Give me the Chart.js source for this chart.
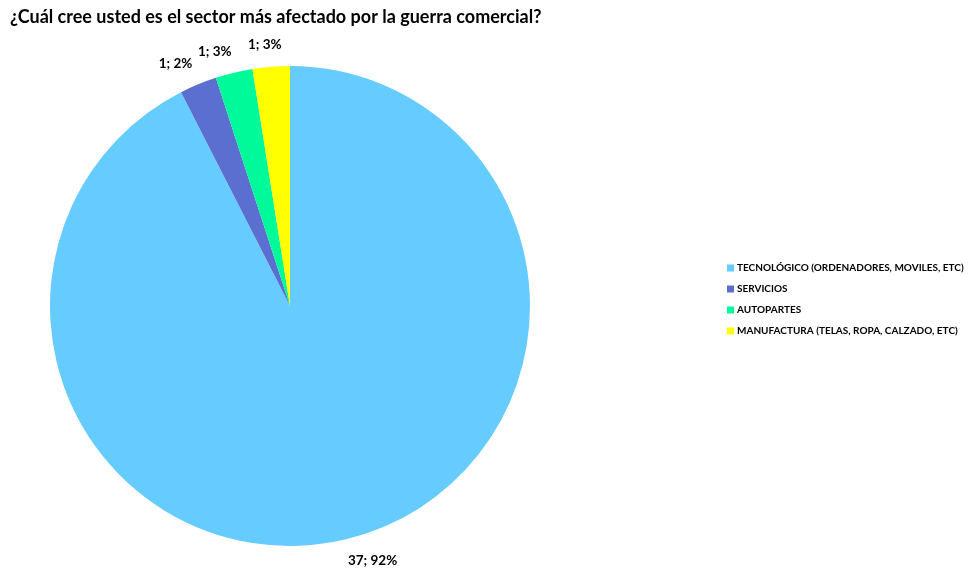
<!DOCTYPE html>
<html>
<head>
<meta charset="utf-8">
<script src="https://cdn.jsdelivr.net/npm/chart.js@4"></script>
<style>
  html, body { margin: 0; padding: 0; background: #fff; }
  #wrap { width: 974px; height: 569px; position: relative; }
</style>
</head>
<body>
<div id="wrap"><canvas id="chart" width="974" height="569"></canvas></div>
<script>
// Encuesta: sector más afectado
const sectores   = ['TECNOLÓGICO (ORDENADORES, MOVILES, ETC)', 'SERVICIOS', 'AUTOPARTES', 'MANUFACTURA (TELAS, ROPA, CALZADO, ETC)'];
const respuestas = [37, 1, 1, 1];
const porcentajes = ['92%', '2%', '3%', '3%'];
const colores    = ['#66CCFF', '#5B6FD0', '#00FA9A', '#FFFF00'];
const titulo     = '¿Cuál cree usted es el sector más afectado por la guerra comercial?';

const FONT = 'Lato, "Open Sans", sans-serif';

// título, etiquetas de datos y leyenda dibujados a mano (estilo Excel)
const extras = {
  id: 'extras',
  afterDraw(chart) {
    const ctx = chart.ctx;
    ctx.save();

    // título
    ctx.fillStyle = '#000';
    ctx.font = 'bold 18px ' + FONT;
    ctx.textAlign = 'left';
    ctx.textBaseline = 'middle';
    ctx.fillText(titulo, 10, 17);

    // etiquetas "valor; %" fuera de cada sector, esquina cercana pegada al borde
    ctx.font = 'bold 13.5px ' + FONT;
    ctx.textAlign = 'center';
    const h = 14;
    const arcs = chart.getDatasetMeta(0).data;
    arcs.forEach((arc, i) => {
      const { x, y, startAngle, endAngle, outerRadius } = arc.getProps(['x', 'y', 'startAngle', 'endAngle', 'outerRadius'], true);
      const mid = (startAngle + endAngle) / 2;
      const dx = Math.cos(mid), dy = Math.sin(mid);
      const txt = respuestas[i] + '; ' + porcentajes[i];
      const w = ctx.measureText(txt).width;
      const r = outerRadius + 15;
      const cx = x + dx * r + Math.sign(dx) * w / 2 * Math.min(1, 4 * Math.abs(dx));
      const cy = y + dy * r + dy * h / 2;
      ctx.fillText(txt, cx, cy);
    });

    // leyenda
    ctx.font = 'bold 10px ' + FONT;
    ctx.textAlign = 'left';
    sectores.forEach((s, i) => {
      const yy = 268 + i * 21;
      ctx.fillStyle = colores[i];
      ctx.fillRect(727, yy - 3.5, 7, 7);
      ctx.fillStyle = '#000';
      ctx.fillText(s, 737, yy);
    });

    ctx.restore();
  }
};

new Chart(document.getElementById('chart'), {
  type: 'pie',
  data: {
    labels: sectores,
    datasets: [{
      data: respuestas,
      backgroundColor: colores,
      borderWidth: 0,
      hoverOffset: 0
    }]
  },
  options: {
    responsive: false,
    animation: false,
    layout: { padding: { left: 50, right: 444, top: 66, bottom: 23 } },
    plugins: {
      legend: { display: false },
      tooltip: { enabled: false }
    }
  },
  plugins: [extras]
});
</script>
</body>
</html>
